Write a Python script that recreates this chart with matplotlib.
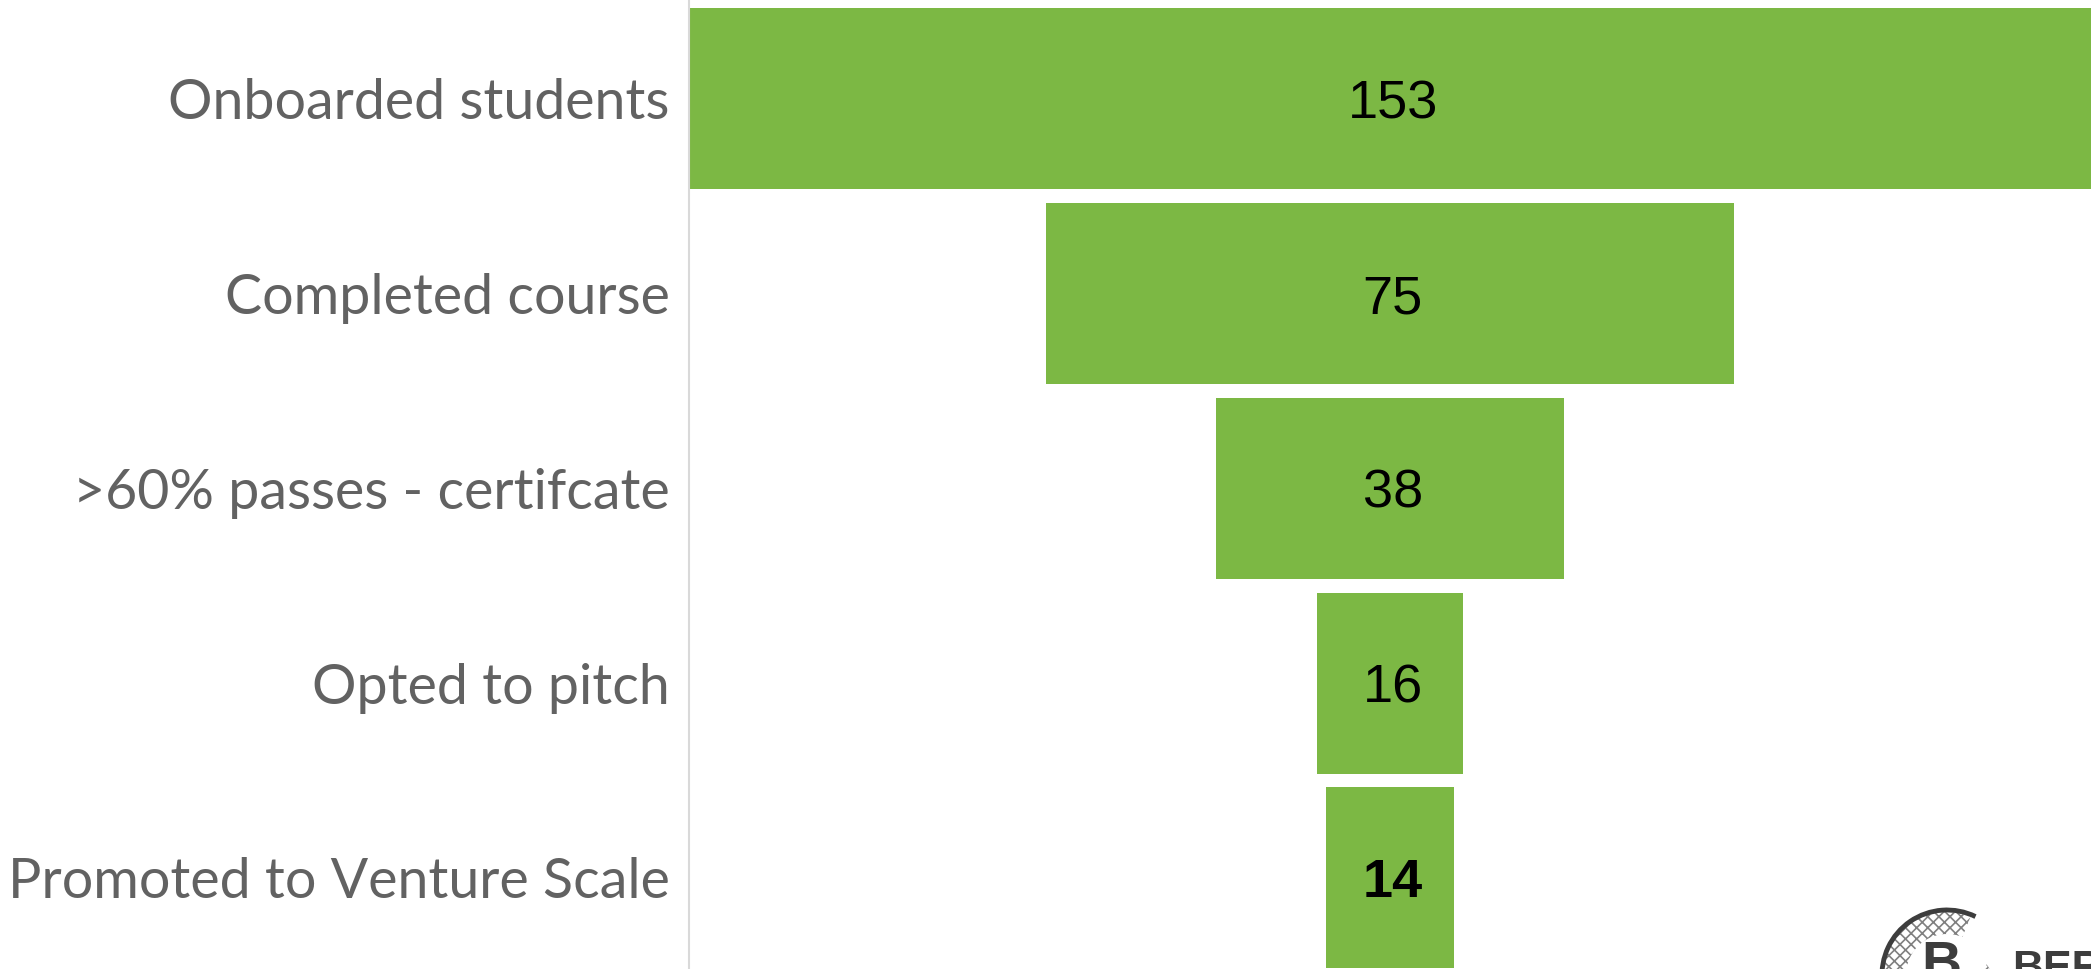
import matplotlib
matplotlib.use("Agg")
import matplotlib.pyplot as plt
from matplotlib.patches import Arc, Wedge

plt.rcParams["hatch.linewidth"] = 1.2

# data
stages = ["Onboarded students", "Completed course", ">60% passes - certifcate",
          "Opted to pitch", "Promoted to Venture Scale"]
counts = [153, 75, 38, 16, 14]
bold_stage = "Promoted to Venture Scale"

GREEN = "#7CB844"
LABEL = "#626262"
W, H = 2091, 969

fig = plt.figure(figsize=(W / 100, H / 100), dpi=100, facecolor="white")
ax = fig.add_axes([689 / W, 0, (W - 689) / W, 1])

# funnel: bars centred on zero
ypos = list(range(len(stages)))
ax.barh(ypos, counts, left=[-c / 2 for c in counts], height=0.93, color=GREEN, linewidth=0)
for y, c, s in zip(ypos, counts, stages):
    ax.text(0.3, y + 0.028, str(c), ha="center", va="center", fontsize=39, color="black",
            family="Liberation Sans", fontweight="bold" if s == bold_stage else "normal")

ax.set_xlim(-76.5, 76.5)
ax.set_ylim(4.468, -0.508)
ax.set_yticks(ypos)
ax.set_yticklabels(stages, family="Lato", fontsize=40, color=LABEL)
ax.tick_params(axis="y", length=0, pad=14)
ax.set_xticks([])
for side in ("top", "right", "bottom"):
    ax.spines[side].set_visible(False)
ax.spines["left"].set_color("#d9d9d9")
ax.spines["left"].set_linewidth(1.5)

# logo cut off by the bottom right corner
lg = fig.add_axes([0, 0, 1, 1], facecolor="none")
lg.set_xlim(0, W)
lg.set_ylim(H, 0)
lg.set_aspect("equal")
lg.axis("off")
LOGO = "#3d3d3d"
lg.add_patch(Wedge((1947, 975), 63, 175, 292, width=22, facecolor="white",
                   edgecolor="#808080", hatch="xxx", linewidth=0))
lg.add_patch(Arc((1947, 975), 130, 130, theta1=175, theta2=296, color=LOGO, linewidth=3.5))
lg.text(1921, 940, "B", fontsize=40, fontweight="bold", color=LOGO, family="Liberation Sans",
        va="top", ha="left")
lg.add_patch(Wedge((1962, 985), 32, 320, 355, width=12, facecolor="white",
                   edgecolor="#808080", hatch="xxx", linewidth=0))
lg.text(2012, 949, "BER", fontsize=31, fontweight="bold", color=LOGO, family="Liberation Sans",
        va="top", ha="left")

fig.savefig("out.png", dpi=100)
